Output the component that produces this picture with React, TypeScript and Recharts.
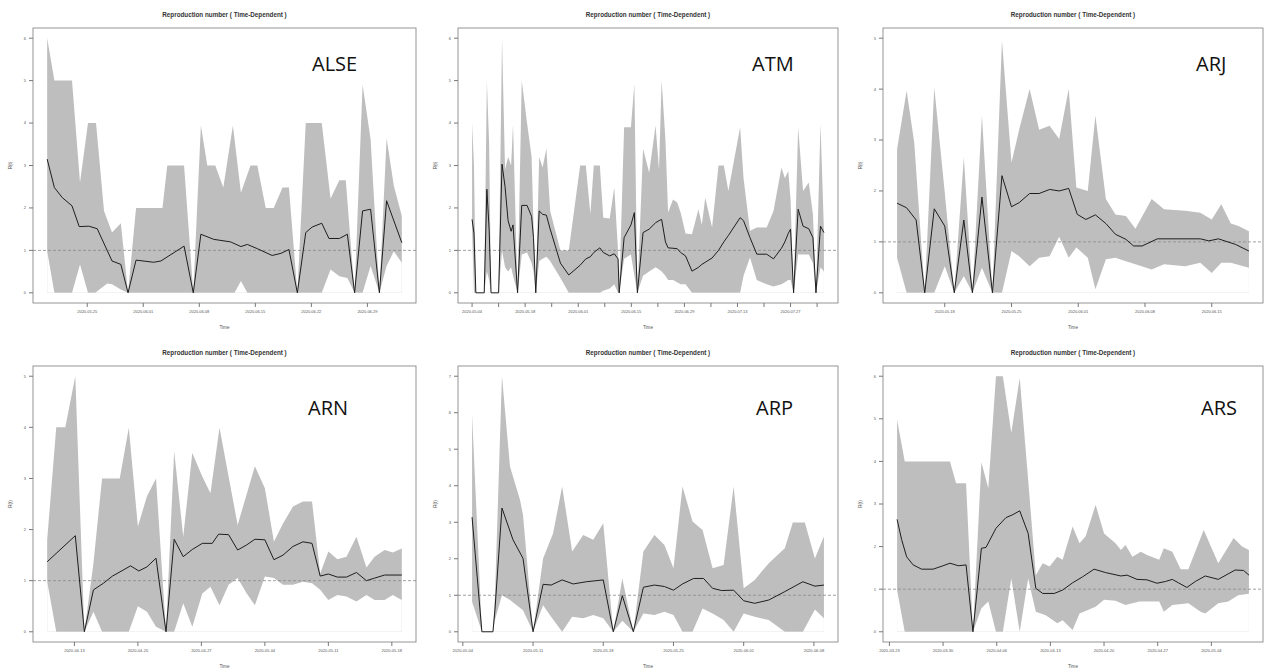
import React from "react";
import { ComposedChart, Area, Line, XAxis, YAxis, ReferenceLine } from "recharts";

// days counted from the first estimate of each panel
const alseDays = [0, 0.9, 1.9, 3.1, 4, 5.2, 6.25, 8.1, 9.2, 10.1, 11.1, 13.3, 14.2, 17.1, 18.25, 19.2, 20.8, 22.9, 24.2, 25, 26.25, 28.1, 29.2, 30.2, 31.25, 32.3, 33.1, 34.3, 35.2, 36.5, 37.5, 38.4, 39.4, 40.4, 41.5, 42.4, 44.3];
const alseR = [3.15, 2.48, 2.24, 2.05, 1.56, 1.57, 1.51, 0.75, 0.67, 0, 0.77, 0.72, 0.75, 1.1, 0, 1.38, 1.26, 1.2, 1.09, 1.14, 1.04, 0.88, 0.93, 1.02, 0, 1.42, 1.55, 1.64, 1.28, 1.28, 1.38, 0, 1.93, 1.97, 0, 2.17, 1.18];
const alseHiDays = [0, 0.9, 3.1, 4.1, 5.1, 6.1, 7.1, 8.1, 9.2, 10.1, 11.1, 14.4, 15, 17.1, 18.25, 19.2, 20, 21, 22, 23.2, 24.2, 25.4, 26.25, 27.3, 28.3, 29.4, 30.2, 31.25, 32.3, 34.3, 35.4, 36.5, 37.3, 38.4, 39.4, 40.4, 41.5, 42.4, 43.3, 44.3];
const alseHi = [6.0, 5.0, 5.0, 2.6, 4.0, 4.0, 1.93, 1.42, 1.64, 0, 2.0, 2.0, 3.0, 3.0, 0, 3.94, 3.0, 3.0, 2.48, 3.94, 2.36, 3.0, 3.0, 2.0, 2.0, 2.48, 2.48, 0, 4.0, 4.0, 2.22, 2.65, 2.65, 0, 4.9, 3.62, 0, 3.64, 2.52, 1.81];
const alseLoDays = [0, 0.9, 3.1, 4.1, 5.1, 6.0, 7.5, 8.1, 9.2, 10.1, 23.4, 24.2, 25.0, 34.3, 35.4, 36.5, 37.5, 38.4, 39.4, 40.4, 41.5, 42.4, 43.3, 44.3];
const alseLo = [0.98, 0, 0, 0.67, 0, 0, 0.22, 0.2, 0.08, 0, 0, 0.28, 0, 0, 0.55, 0.39, 0.35, 0, 0, 0.63, 0, 0.63, 0.98, 0.71];
const alseTicks = [5, 12, 19, 26, 33, 40];
const alseTickLabels = ["2020.05.25", "2020.06.01", "2020.06.08", "2020.06.15", "2020.06.22", "2020.06.29"];
const alseYTicks = [0, 1, 2, 3, 4, 5, 6];

const atmDays = [0, 0.5, 1, 3.2, 3.9, 4.5, 5, 7, 7.9, 8.7, 9.5, 10.3, 10.8, 12, 13.1, 14.5, 15.7, 16.2, 16.8, 17.7, 18.6, 19.6, 20.6, 23.3, 25.5, 28.5, 30, 31.2, 32.1, 33.7, 34.6, 36.3, 37.5, 38.5, 38.8, 40.1, 41.9, 42.8, 43.6, 45.1, 46.7, 48.4, 49.3, 50, 51, 51.7, 53, 54.1, 55, 56.3, 58, 59.7, 60.6, 61.5, 63.3, 65, 66.4, 67.6, 70.7, 71.6, 73.3, 75.1, 77.7, 79.5, 81.6, 82.5, 83.4, 84, 84.8, 86, 87.3, 88.8, 89.9, 90.7, 91.9, 92.8];
const atmR = [1.73, 1.4, 0, 0, 2.44, 1.5, 0, 0, 3.03, 2.5, 1.7, 1.45, 1.6, 0, 2.06, 2.06, 1.8, 1.3, 0, 1.93, 1.85, 1.83, 1.5, 0.7, 0.42, 0.65, 0.8, 0.85, 0.95, 1.06, 0.95, 0.87, 0.92, 0.8, 0, 1.3, 1.6, 1.89, 0, 1.42, 1.5, 1.65, 1.7, 1.73, 1.2, 1.06, 1.05, 1.04, 0.95, 0.87, 0.51, 0.6, 0.67, 0.72, 0.82, 1.0, 1.2, 1.35, 1.77, 1.7, 1.3, 0.91, 0.91, 0.8, 1.05, 1.2, 1.4, 1.5, 0, 1.97, 1.57, 1.51, 1.3, 0, 1.57, 1.42];
const atmLo = [1.5, 0, 0, 0, 0.5, 0.3, 0, 0, 1.0, 0.6, 0.5, 0.6, 0.4, 0, 0.9, 0.95, 0.7, 0.5, 0, 0.75, 0.8, 0.85, 0.75, 0.35, 0, 0, 0, 0, 0, 0, 0.05, 0.1, 0.2, 0, 0, 0.8, 0.9, 0.4, 0, 0.4, 0.5, 0.6, 0.55, 0.5, 0.4, 0.3, 0.3, 0.25, 0.2, 0.2, 0, 0, 0, 0, 0, 0, 0, 0, 0, 0.4, 0.83, 0.3, 0.2, 0.15, 0.2, 0.25, 0.3, 0.3, 0, 0.9, 0.9, 0.9, 0.7, 0, 0.6, 0.5];
const atmHi = [4.0, 3.0, 0, 0, 5.0, 3.5, 0, 0, 6.0, 2.9, 3.2, 3.0, 3.97, 0, 5.0, 4.0, 3.2, 1.6, 0, 3.2, 2.95, 3.4, 1.93, 1.0, 1.0, 3.0, 3.0, 1.85, 3.0, 3.0, 1.77, 1.75, 2.48, 1.0, 0, 3.9, 3.9, 4.92, 0, 3.4, 2.83, 3.94, 2.9, 5.0, 3.6, 1.89, 2.2, 2.13, 1.89, 1.4, 1.38, 1.97, 1.6, 2.24, 1.54, 3.0, 3.0, 2.4, 3.9, 2.7, 1.46, 1.54, 1.54, 1.93, 2.95, 2.7, 2.87, 2.2, 0, 3.9, 2.4, 2.6, 1.85, 0, 3.98, 1.46];
const atmTicks = [0, 7, 14, 21, 28, 35, 42, 49, 56, 63, 70, 77, 84, 91];
const atmTickLabels = ["2020.05.04", "", "2020.05.18", "", "2020.06.01", "", "2020.06.15", "", "2020.06.29", "", "2020.07.13", "", "2020.07.27", ""];
const atmYTicks = [0, 1, 2, 3, 4, 5, 6];

const arjDays = [0, 1, 2, 2.9, 3.9, 5, 6, 7, 7.9, 8.9, 10, 11, 12, 12.8, 13.9, 14.9, 16, 17, 18, 18.9, 19.8, 20.8, 21.9, 22.9, 24, 24.8, 25.7, 27.3, 31.8, 32.7, 33.7, 35.5, 36.9];
const arjR = [1.76, 1.67, 1.43, 0, 1.65, 1.31, 0, 1.43, 0, 1.88, 0, 2.3, 1.69, 1.77, 1.95, 1.95, 2.03, 2.0, 2.05, 1.54, 1.44, 1.53, 1.36, 1.15, 1.05, 0.92, 0.92, 1.06, 1.06, 1.02, 1.06, 0.95, 0.82];
const arjHiDays = [0, 1, 1.8, 2.9, 3.9, 5, 6, 7, 7.9, 8.9, 10, 11, 12, 12.8, 13.9, 14.9, 16, 17, 18, 18.8, 20, 20.8, 21.9, 22.9, 24, 25, 26.7, 28, 30.2, 31.8, 33, 34, 35, 35.8, 36.9];
const arjHi = [2.82, 3.97, 2.95, 0, 4.03, 1.97, 0, 2.66, 0, 3.48, 0, 4.95, 2.56, 3.2, 4.0, 3.2, 3.28, 3.02, 4.0, 2.07, 2.0, 3.48, 1.84, 1.54, 1.51, 1.26, 1.84, 1.64, 1.61, 1.57, 1.44, 1.74, 1.36, 1.31, 1.21];
const arjLoDays = [0, 1, 3.9, 5, 6, 7, 7.9, 8.9, 10, 11, 12, 12.8, 13.9, 14.9, 16, 17, 18, 18.8, 20, 20.8, 21.9, 22.9, 24, 25, 26.7, 28, 30.2, 31.8, 33, 34, 35, 36.9];
const arjLo = [0.69, 0, 0, 0.52, 0, 0.33, 0, 0.49, 0, 0, 0.82, 0.72, 0.52, 0.69, 0.72, 1.1, 0.69, 0.89, 0.69, 0.07, 0.66, 0.69, 0.62, 0.56, 0.46, 0.56, 0.52, 0.59, 0.39, 0.59, 0.59, 0.49];
const arjTicks = [5, 12, 19, 26, 33];
const arjTickLabels = ["2020.05.18", "2020.05.25", "2020.06.01", "2020.06.08", "2020.06.15"];
const arjYTicks = [0, 1, 2, 3, 4, 5];

const arnDays = [0, 3.1, 4.1, 5.1, 6.2, 7.2, 9.2, 10.1, 11, 12, 13.1, 14, 15, 16, 17.1, 18.2, 18.9, 20, 21, 22, 22.9, 24, 25, 26, 27.1, 28.2, 29.2, 30.1, 31, 32, 33, 34.1, 35.2, 36.1, 37.2, 39.1];
const arnR = [1.37, 1.88, 0, 0.82, 0.95, 1.09, 1.29, 1.19, 1.27, 1.44, 0, 1.81, 1.47, 1.61, 1.73, 1.73, 1.91, 1.9, 1.6, 1.7, 1.81, 1.8, 1.41, 1.5, 1.67, 1.76, 1.73, 1.09, 1.13, 1.07, 1.07, 1.16, 1.0, 1.05, 1.11, 1.11];
const arnHiDays = [0, 1, 2, 3.1, 4.1, 5.1, 6.05, 8, 9, 10, 11, 12, 13.1, 14, 15, 16, 17.1, 18, 19, 21, 22.9, 24, 25, 26, 27.1, 28.2, 29.2, 30.1, 31, 32, 33, 34.1, 35.2, 36.1, 37.2, 38.1, 39.1];
const arnHi = [1.8, 4.0, 4.0, 5.0, 0, 1.34, 3.0, 3.0, 3.99, 2.06, 2.65, 3.0, 0, 3.53, 1.86, 3.5, 3.04, 2.71, 3.99, 2.09, 3.24, 2.81, 1.76, 2.12, 2.45, 2.55, 2.55, 1.14, 1.57, 1.42, 1.47, 1.86, 1.26, 1.47, 1.6, 1.55, 1.63];
const arnLoDays = [0, 1, 4.1, 5.1, 6.05, 9, 10, 11, 12, 13.1, 14, 15, 16, 17.1, 18, 19, 20, 21, 22, 22.9, 24, 25, 26, 27.1, 28.2, 29.2, 30.1, 31, 32, 33, 34.1, 35.2, 36.1, 37.2, 38.1, 39.1];
const arnLo = [0.98, 0, 0, 0.39, 0, 0, 0.5, 0.39, 0.1, 0, 0, 0.56, 0.1, 0.75, 0.88, 0.52, 0.92, 1.05, 0.75, 0.52, 1.08, 1.05, 0.92, 0.92, 0.98, 0.95, 0.82, 0.62, 0.72, 0.69, 0.59, 0.72, 0.62, 0.62, 0.72, 0.62];
const arnTicks = [3, 10, 17, 24, 31, 38];
const arnTickLabels = ["2020-04-13", "2020-04-20", "2020-04-27", "2020-05-04", "2020-05-11", "2020-05-18"];
const arnYTicks = [0, 1, 2, 3, 4, 5];

const arpDays = [0.92, 1.9, 3, 3.2, 3.9, 5, 6, 7, 8, 8.8, 9.9, 11, 12.3, 14, 15, 15.9, 17, 18, 19.1, 20.1, 21, 21.9, 23, 24, 24.9, 25.8, 27, 28, 29.1, 30.5, 32.1, 33.9, 35.1, 36];
const arpR = [3.14, 0, 0, 0.6, 3.39, 2.52, 2.01, 0, 1.3, 1.28, 1.42, 1.31, 1.37, 1.42, 0, 0.99, 0, 1.22, 1.28, 1.24, 1.14, 1.31, 1.46, 1.46, 1.19, 1.13, 1.14, 0.85, 0.78, 0.87, 1.1, 1.37, 1.25, 1.28];
const arpHiDays = [0.92, 1.9, 3, 3.2, 3.9, 4.7, 5.7, 6, 7, 8, 9, 9.9, 10.9, 12, 13, 14, 15, 15.9, 17, 18, 19.1, 20.1, 21, 21.9, 22.9, 23.9, 24.9, 26, 27, 28, 29.1, 30.5, 32.1, 32.9, 34.1, 35.1, 36];
const arpHi = [5.95, 0, 0, 0.96, 7.0, 4.53, 3.61, 3.2, 0, 2.01, 2.7, 3.98, 2.2, 2.65, 2.52, 2.97, 0, 1.46, 0, 2.2, 2.65, 2.38, 1.74, 3.98, 3.02, 2.79, 1.74, 1.83, 3.98, 1.19, 1.42, 1.88, 2.29, 2.99, 2.99, 2.01, 2.61];
const arpLoDays = [0.92, 1.9, 3, 3.2, 3.9, 4.7, 6, 7, 8, 8.8, 9.9, 10.9, 12, 13, 14, 15, 15.9, 17, 18, 19.1, 20.1, 21, 21.9, 22.9, 23.9, 24.9, 26, 27, 28, 29.1, 30.5, 32.1, 33.9, 35.1, 36];
const arpLo = [0.82, 0, 0, 0.32, 1.0, 0.87, 0.59, 0, 0.73, 0.41, 0, 0.41, 0.37, 0.46, 0.37, 0, 0.3, 0, 0.5, 0.46, 0.55, 0.46, 0, 0, 0.64, 0.5, 0.32, 0, 0.5, 0.41, 0.32, 0, 0, 0.61, 0.37];
const arpTicks = [0, 7, 14, 21, 28, 35];
const arpTickLabels = ["2020-05-04", "2020-05-11", "2020-05-18", "2020-05-25", "2020-06-01", "2020-06-08"];
const arpYTicks = [0, 1, 2, 3, 4, 5, 6, 7];

const arsDays = [1, 1.6, 2.25, 3.1, 4.2, 5.7, 7, 7.9, 9, 10, 10.9, 12, 12.6, 13.9, 15.2, 16.1, 17, 18.1, 19.1, 20, 21.5, 22.6, 23.9, 25.2, 26.7, 28.2, 30.2, 31, 32.3, 33.6, 34.9, 36, 36.9, 37.7, 38.8, 39.9, 41.2, 42.9, 45.1, 46.2, 46.9];
const arsR = [2.64, 2.16, 1.76, 1.57, 1.47, 1.47, 1.55, 1.61, 1.55, 1.57, 0, 1.96, 1.98, 2.43, 2.68, 2.75, 2.84, 2.31, 1.02, 0.9, 0.9, 0.98, 1.15, 1.29, 1.47, 1.39, 1.31, 1.33, 1.23, 1.22, 1.14, 1.18, 1.23, 1.15, 1.04, 1.18, 1.31, 1.23, 1.45, 1.44, 1.33];
const arsHiDays = [1, 2, 7.9, 8.7, 10, 10.9, 12, 12.9, 13.9, 14.8, 15.9, 17, 18.1, 19.1, 20, 20.9, 21.9, 22.6, 23.9, 24.8, 25.6, 26.9, 28, 29.5, 30.2, 30.8, 31.7, 32.8, 33.6, 35.2, 35.8, 36.9, 38, 39, 41, 42.9, 44.9, 46, 46.9];
const arsHi = [4.98, 4.0, 4.0, 3.49, 3.49, 0, 3.98, 3.37, 6.0, 6.0, 4.67, 5.96, 3.57, 1.33, 1.61, 1.53, 1.76, 1.69, 2.47, 2.08, 2.24, 2.98, 2.31, 2.08, 1.92, 2.04, 1.76, 1.88, 1.8, 1.69, 1.96, 1.88, 1.47, 1.47, 2.39, 1.61, 2.2, 2.0, 1.92];
const arsLoDays = [1, 2, 10.9, 12, 12.9, 13.9, 14.8, 15.9, 17, 18.1, 19.1, 20.4, 21.9, 22.6, 23.9, 24.8, 26.9, 28, 29.5, 30.8, 32.6, 35.2, 35.8, 36.9, 39, 40.6, 41.2, 42.9, 44.2, 45.5, 46.9];
const arsLo = [0.98, 0, 0, 0.55, 0.71, 0, 0, 1.25, 0, 1.25, 0.47, 0.39, 0.2, 0.27, 0.04, 0.43, 0.59, 0.75, 0.73, 0.63, 0.71, 0.71, 0.47, 0.63, 0.67, 0.47, 0.43, 0.67, 0.71, 0.86, 0.89];
const arsTicks = [0, 7, 14, 21, 28, 35, 42];
const arsTickLabels = ["2020-03-23", "2020-03-30", "2020-04-06", "2020-04-13", "2020-04-20", "2020-04-27", "2020-05-04"];
const arsYTicks = [0, 1, 2, 3, 4, 5, 6];

const TITLE = "Reproduction number ( Time-Dependent )";
const BAND = "#bebebe";
const AXIS_FONT = "'Liberation Sans', Arial, sans-serif";

const pts = (days: number[], vals: number[]) => days.map((d, i) => ({ d, v: vals[i] }));

// page layout of the 3x2 grid
const COLS = [
  { left: 0, width: 421, plotLeft: 33, plotRight: 416 },
  { left: 421, width: 421, plotLeft: 458, plotRight: 838 },
  { left: 842, width: 422, plotLeft: 883, plotRight: 1263 },
];
const ROWS = [
  { top: 0, height: 330, plotTop: 28, plotBottom: 303, labelY: 71 },
  { top: 330, height: 339, plotTop: 366, plotBottom: 642, labelY: 415 },
];

const panels = [
  { name: "ALSE", col: 0, row: 0, nameX: 312, days: alseDays, r: alseR, hiDays: alseHiDays, hi: alseHi, loDays: alseLoDays, lo: alseLo, ticks: alseTicks, labels: alseTickLabels, yTicks: alseYTicks },
  { name: "ATM", col: 1, row: 0, nameX: 752, days: atmDays, r: atmR, hiDays: atmDays, hi: atmHi, loDays: atmDays, lo: atmLo, ticks: atmTicks, labels: atmTickLabels, yTicks: atmYTicks },
  { name: "ARJ", col: 2, row: 0, nameX: 1196, days: arjDays, r: arjR, hiDays: arjHiDays, hi: arjHi, loDays: arjLoDays, lo: arjLo, ticks: arjTicks, labels: arjTickLabels, yTicks: arjYTicks },
  { name: "ARN", col: 0, row: 1, nameX: 308, days: arnDays, r: arnR, hiDays: arnHiDays, hi: arnHi, loDays: arnLoDays, lo: arnLo, ticks: arnTicks, labels: arnTickLabels, yTicks: arnYTicks },
  { name: "ARP", col: 1, row: 1, nameX: 756, days: arpDays, r: arpR, hiDays: arpHiDays, hi: arpHi, loDays: arpLoDays, lo: arpLo, ticks: arpTicks, labels: arpTickLabels, yTicks: arpYTicks },
  { name: "ARS", col: 2, row: 1, nameX: 1201, days: arsDays, r: arsR, hiDays: arsHiDays, hi: arsHi, loDays: arsLoDays, lo: arsLo, ticks: arsTicks, labels: arsTickLabels, yTicks: arsYTicks },
];

const Panel = ({ p }: { p: (typeof panels)[number] }) => {
  const c = COLS[p.col];
  const rw = ROWS[p.row];
  const first = p.days[0];
  const last = p.days[p.days.length - 1];
  const pad = (last - first) * 0.04;
  const yMax = p.yTicks[p.yTicks.length - 1];
  const tickStyle = { fontSize: 4, fill: "#555", fontFamily: AXIS_FONT };

  return (
    <div style={{ position: "absolute", left: c.left, top: rw.top, width: c.width, height: rw.height }}>
      <ComposedChart
        width={c.width}
        height={rw.height}
        margin={{ top: rw.plotTop - rw.top, right: c.left + c.width - c.plotRight, bottom: 0, left: 0 }}
      >
        <XAxis
          type="number"
          dataKey="d"
          domain={[first - pad, last + pad]}
          ticks={p.ticks}
          interval={0}
          tickFormatter={(v: number) => p.labels[p.ticks.indexOf(v)] ?? ""}
          height={rw.top + rw.height - rw.plotBottom}
          axisLine={false}
          tickSize={4}
          tickMargin={3}
          tickLine={{ stroke: "#777" }}
          tick={tickStyle}
          allowDataOverflow
        />
        <YAxis
          type="number"
          domain={[-0.04 * yMax, 1.04 * yMax]}
          ticks={p.yTicks}
          interval={0}
          width={c.plotLeft - c.left}
          axisLine={false}
          tickSize={4}
          tickMargin={3}
          tickLine={{ stroke: "#777" }}
          tick={tickStyle}
          allowDataOverflow
        />
        <Area data={pts(p.hiDays, p.hi)} dataKey="v" type="linear" baseValue={0} fill={BAND} fillOpacity={1} stroke="none" isAnimationActive={false} />
        <Area data={pts(p.loDays, p.lo)} dataKey="v" type="linear" baseValue={0} fill="#ffffff" fillOpacity={1} stroke="none" isAnimationActive={false} />
        <ReferenceLine y={1} stroke="#8a8a8a" strokeDasharray="3 2" strokeWidth={0.8} />
        <Line data={pts(p.days, p.r)} dataKey="v" type="linear" stroke="#1e1e1e" strokeWidth={1} dot={false} isAnimationActive={false} />
      </ComposedChart>
    </div>
  );
};

export default function App() {
  return (
    <div style={{ position: "absolute", left: 0, top: 0, width: 1264, height: 669, background: "#fff", overflow: "hidden" }}>
      {panels.map((p) => (
        <Panel key={p.name} p={p} />
      ))}
      <svg width={1264} height={669} style={{ position: "absolute", left: 0, top: 0, pointerEvents: "none" }}>
        {panels.map((p) => {
          const c = COLS[p.col];
          const rw = ROWS[p.row];
          const cx = (c.plotLeft + c.plotRight) / 2;
          const cy = (rw.plotTop + rw.plotBottom) / 2;
          return (
            <g key={p.name}>
              <rect
                x={c.plotLeft}
                y={rw.plotTop}
                width={c.plotRight - c.plotLeft}
                height={rw.plotBottom - rw.plotTop}
                fill="none"
                stroke="#7a7a7a"
                strokeWidth={0.8}
              />
              <text x={cx} y={rw.plotTop - 11} textAnchor="middle" fontSize={6.3} fontWeight="bold" fill="#333" fontFamily={AXIS_FONT}>
                {TITLE}
              </text>
              <text x={cx} y={rw.plotBottom + 26} textAnchor="middle" fontSize={4.6} fill="#555" fontFamily={AXIS_FONT}>
                Time
              </text>
              <text
                x={c.plotLeft - 21}
                y={cy}
                textAnchor="middle"
                fontSize={4.6}
                fill="#555"
                fontFamily={AXIS_FONT}
                transform={`rotate(-90 ${c.plotLeft - 21} ${cy})`}
              >
                R(t)
              </text>
              <text x={p.nameX} y={rw.labelY} fontSize={20} fill="#111" fontFamily="'Open Sans', sans-serif">
                {p.name}
              </text>
            </g>
          );
        })}
      </svg>
    </div>
  );
}
